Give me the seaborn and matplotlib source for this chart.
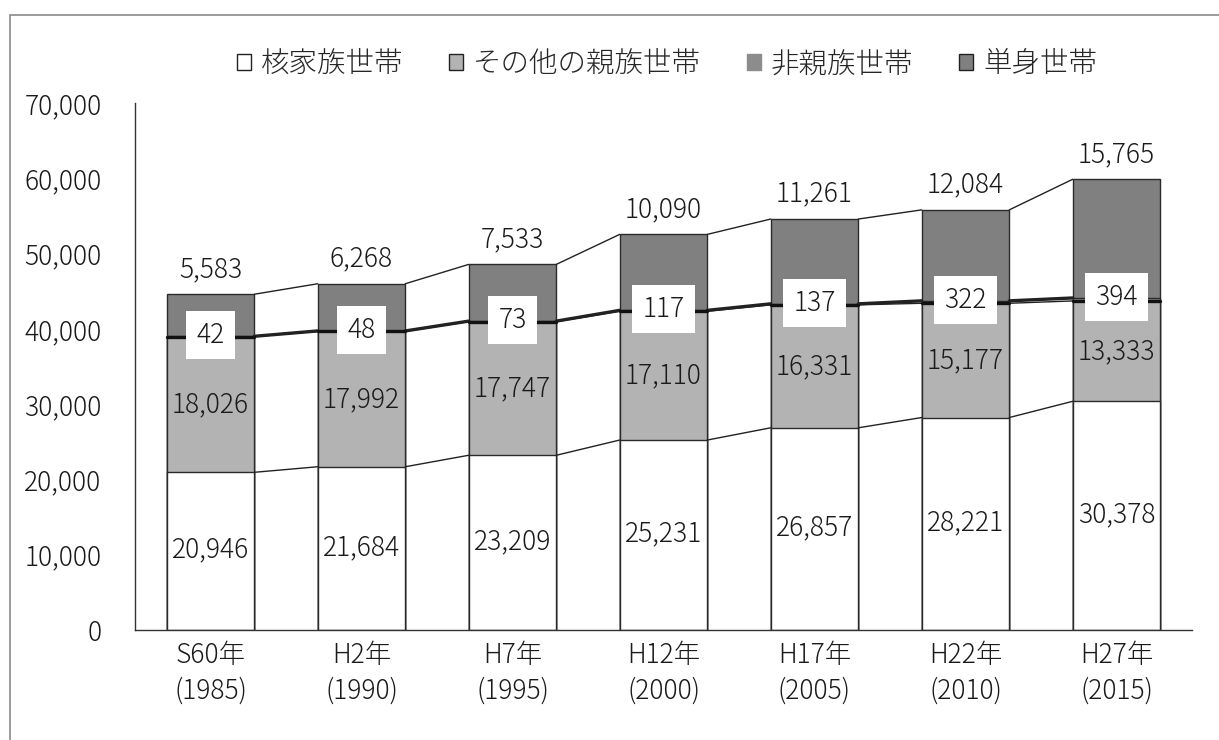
import matplotlib
matplotlib.use("Agg")
import matplotlib.pyplot as plt
import seaborn as sns
import numpy as np
import pandas as pd
from matplotlib.patches import Patch, Rectangle

categories = ["S60年\n(1985)", "H2年\n(1990)", "H7年\n(1995)", "H12年\n(2000)",
              "H17年\n(2005)", "H22年\n(2010)", "H27年\n(2015)"]
nuclear = [20946, 21684, 23209, 25231, 26857, 28221, 30378]
other_kin = [18026, 17992, 17747, 17110, 16331, 15177, 13333]
non_kin = [42, 48, 73, 117, 137, 322, 394]
single = [5583, 6268, 7533, 10090, 11261, 12084, 15765]
series_names = ["核家族世帯", "その他の親族世帯", "非親族世帯", "単身世帯"]
yticks = [0, 10000, 20000, 30000, 40000, 50000, 60000, 70000]

colors = ["#ffffff", "#b3b3b3", "#8c8c8c", "#808080"]

sns.set_style("white")
plt.rcParams['font.family'] = ['Noto Sans CJK JP', 'DejaVu Sans']
plt.rcParams['font.weight'] = 'light'

n1 = np.array(nuclear)
n2 = n1 + np.array(other_kin)
n3 = n2 + np.array(non_kin)
n4 = n3 + np.array(single)
levels = [n1, n2, n3, n4]

fig = plt.figure(figsize=(12.19, 7.40), dpi=100)
ax = fig.add_axes([135/1219, 1 - 630/740, (1192-135)/1219, (630-103)/740])

width = 0.58
for lev, col in zip(reversed(levels), reversed(colors)):
    df = pd.DataFrame({"cat": categories, "val": lev})
    sns.barplot(data=df, x="cat", y="val", color=col, saturation=1, width=width,
                edgecolor="#2a2a2a", linewidth=1.0, ax=ax, order=categories)

x = np.arange(len(categories))
# connector lines
for lev, lw in zip(levels, [1.0, 1.0, 2.4, 1.0]):
    for i in range(len(categories) - 1):
        ax.plot([x[i] + width/2, x[i+1] - width/2], [lev[i], lev[i+1]],
                color="#222222", lw=lw, zorder=1)
# thick non-kin segment line at bar
for i in range(len(categories)):
    ax.plot([x[i] - width/2, x[i] + width/2], [n2[i], n2[i]], color="#111111",
            lw=2.4, zorder=3)

fs = 19
tc = "#1a1a1a"
for i in range(len(categories)):
    ax.text(x[i], nuclear[i] / 2 + 200, f"{nuclear[i]:,}", ha="center", va="center",
            fontsize=fs, color=tc, zorder=5)
    ax.text(x[i], n1[i] + other_kin[i] / 2, f"{other_kin[i]:,}", ha="center",
            va="center", fontsize=fs, color=tc, zorder=5)
    ax.text(x[i], n3[i] + 150, f"{non_kin[i]:,}", ha="center", va="center",
            fontsize=fs, color=tc, zorder=6,
            bbox=dict(boxstyle="square,pad=0.38", fc="white", ec="none"))
    ax.text(x[i], n4[i] + 1500, f"{single[i]:,}", ha="center", va="bottom",
            fontsize=fs, color=tc, zorder=5)

ax.set_xlim(-0.5, len(categories) - 0.5)
ax.set_ylim(0, 70000)
ax.set_yticks(yticks)
ax.set_yticklabels([f"{v:,}" for v in yticks], fontsize=fs, color=tc)
ax.set_xticks(x)
ax.set_xticklabels(categories, fontsize=fs, color=tc, linespacing=1.35)
ax.tick_params(axis="y", length=0, pad=24)
ax.tick_params(axis="x", length=0, pad=8)
ax.set_xlabel("")
ax.set_ylabel("")
for s in ["top", "right"]:
    ax.spines[s].set_visible(False)
for s in ["left", "bottom"]:
    ax.spines[s].set_color("#333333")
    ax.spines[s].set_linewidth(1.0)

handles = [Patch(facecolor=c, edgecolor=("#222222" if c != "#8c8c8c" else c), linewidth=1.0)
           for c in colors]
fig.legend(handles, series_names, loc="center", bbox_to_anchor=(0.547, 1 - 64/740),
           ncol=4, frameon=False, fontsize=20.5, handlelength=0.5, handleheight=0.5,
           handletextpad=0.35, columnspacing=1.6)

fig.patches.append(Rectangle((10/1219, -0.1), 1.2, 1 - 15/740 + 0.1, transform=fig.transFigure,
                             fill=False, edgecolor="#8a8a8a", linewidth=1.2))

fig.savefig("out.png", dpi=100)
